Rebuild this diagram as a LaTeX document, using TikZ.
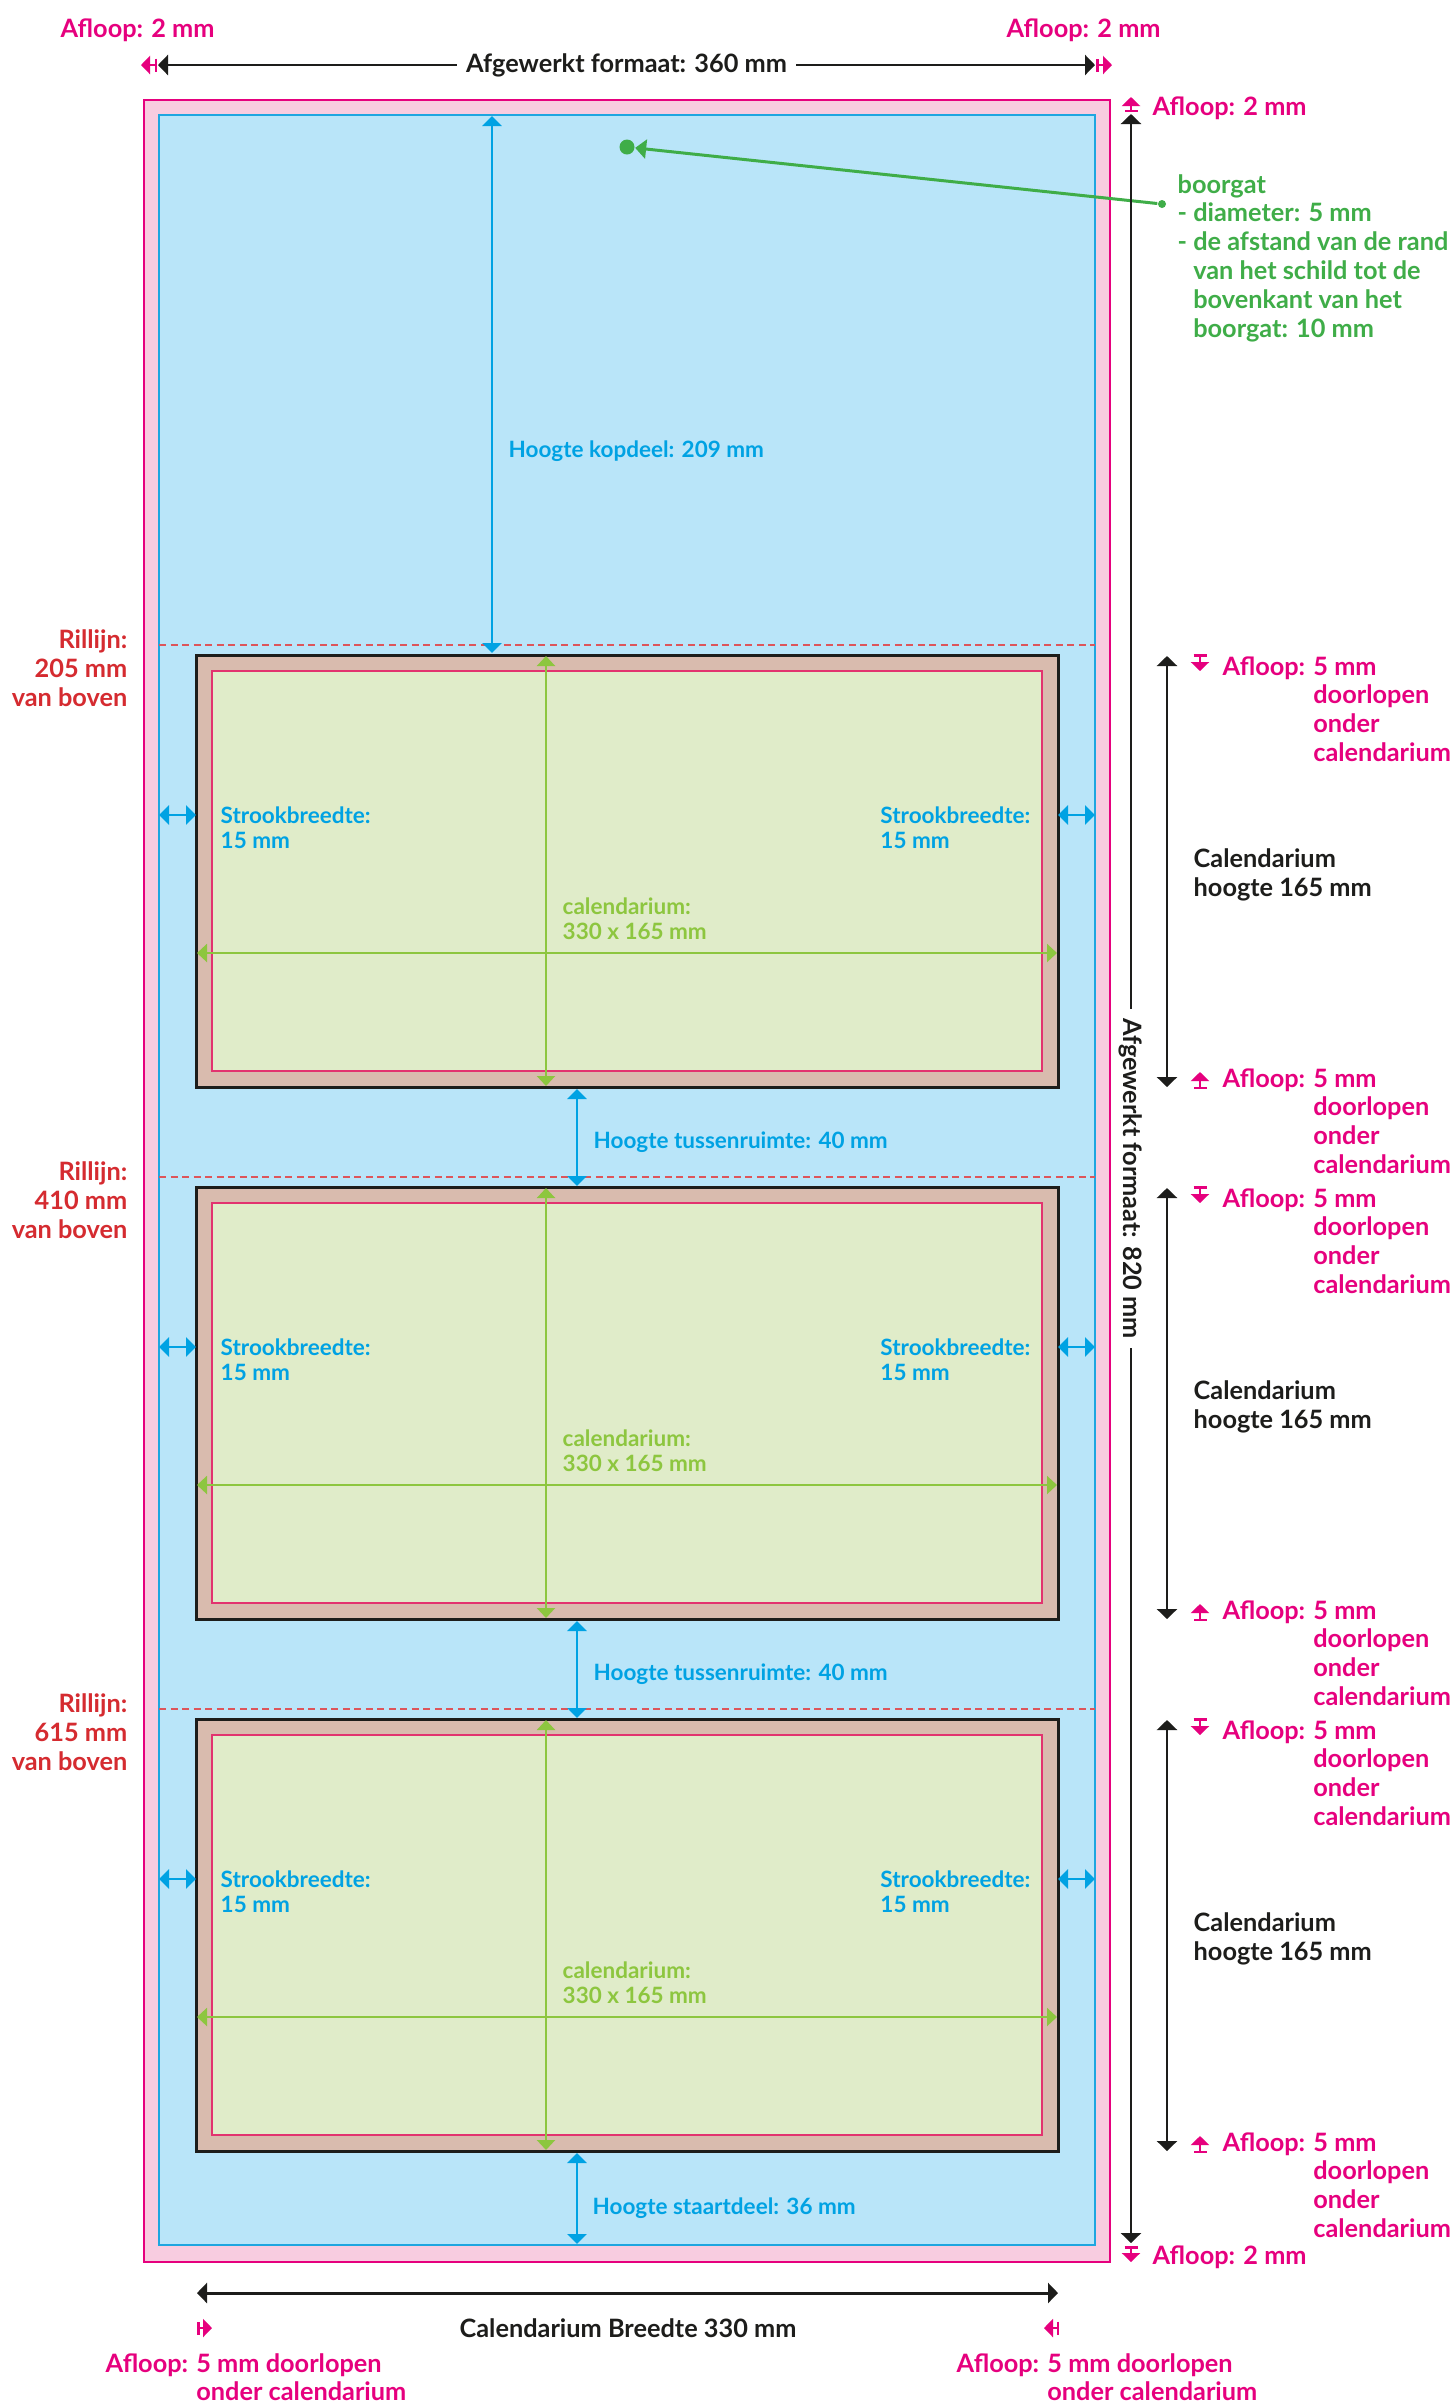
\documentclass[tikz,border=0pt]{standalone}
\usepackage{fontspec}
\setmainfont{Lato}
\usetikzlibrary{arrows.meta}

\definecolor{bleedpink}{HTML}{F8CCE0}
\definecolor{bleedline}{HTML}{E6007E}
\definecolor{pageblue}{HTML}{B9E5F9}
\definecolor{pageline}{HTML}{1EA6E0}
\definecolor{dimblue}{HTML}{00A2E3}
\definecolor{calbrown}{HTML}{D9BBAE}
\definecolor{calgreen}{HTML}{E0ECC9}
\definecolor{calline}{HTML}{E2336F}
\definecolor{limegreen}{HTML}{8DC63F}
\definecolor{holegreen}{HTML}{3FAD48}
\definecolor{rilred}{HTML}{D52B30}
\definecolor{inkblack}{HTML}{1D1D1B}

\tikzset{
  txt/.style={inner sep=0pt, font=\fontsize{7.2}{8.2}\selectfont\bfseries},
  tight/.style={inner sep=0pt, font=\fontsize{6.4}{7}\selectfont\bfseries},
  blackdim/.style={draw=inkblack, line width=0.25mm, {Triangle[width=2mm,length=1mm]}-{Triangle[width=2mm,length=1mm]}},
  bluedim/.style={draw=dimblue, line width=0.25mm, {Triangle[width=1.9mm,length=1mm]}-{Triangle[width=1.9mm,length=1mm]}},
  greendim/.style={draw=limegreen, line width=0.22mm, {Triangle[width=1.8mm,length=1mm]}-{Triangle[width=1.8mm,length=1mm]}},
  bleedmark/.style={draw=bleedline, line width=0.25mm, {Bar[width=1.3mm]}-{Triangle[width=1.8mm,length=0.9mm]}},
}

\begin{document}
\begin{tikzpicture}[x=0.1mm, y=-0.1mm]
  \useasboundingbox (0,0) rectangle (1456,2401);
  \fill [white] (0,0) rectangle (1456,2401);
  \draw [bleedline, fill=bleedpink, line width=0.2mm] (144,100) rectangle (1110,2262);
  \draw [pageline, fill=pageblue, line width=0.18mm] (159,115) rectangle (1095,2245);

  \foreach \k/\T/\rl in {1/655/205, 2/1187/410, 3/1719/615} {
    \draw [rilred!80, dash pattern=on 0.7mm off 0.45mm, line width=0.12mm] (159,\T-10) -- (1095,\T-10);
    \node [txt, text=rilred, align=right, anchor=base east] (ril\k) at (128,\T+51) {Rillijn:\\\rl{} mm\\van boven};
    \draw [inkblack, fill=calbrown, line width=0.3mm] (196,\T) rectangle (1058,\T+432);
    \draw [calline, fill=calgreen, line width=0.15mm] (212,\T+16) rectangle (1042,\T+416);
    \coordinate (ct\k) at (546,\T+1);
    \coordinate (cb\k) at (546,\T+431);
    \coordinate (cl\k) at (197,\T+298);
    \coordinate (cr\k) at (1057,\T+298);
    \draw [greendim] (ct\k) -- (cb\k);
    \draw [greendim] (cl\k) -- (cr\k);
    \node [tight, text=limegreen, align=left, anchor=base west] (size\k) at (562,\T+284) {calendarium:\\330 x 165 mm};
    \coordinate (sl\k) at (159,\T+160);
    \coordinate (sm\k) at (196,\T+160);
    \coordinate (sn\k) at (1058,\T+160);
    \coordinate (sr\k) at (1095,\T+160);
    \draw [bluedim] (sl\k) -- (sm\k);
    \draw [bluedim] (sn\k) -- (sr\k);
    \node [tight, text=dimblue, align=left, anchor=base west] (stl\k) at (220,\T+193) {Strookbreedte:\\15 mm};
    \node [tight, text=dimblue, align=left, anchor=base east] (str\k) at (1031,\T+193) {Strookbreedte:\\15 mm};
    \coordinate (ht\k) at (1167,\T+1);
    \coordinate (hb\k) at (1167,\T+432);
    \draw [blackdim] (ht\k) -- (hb\k);
    \node [txt, text=inkblack, align=left, anchor=base west] (hoog\k) at (1193,\T+241) {Calendarium\\hoogte 165 mm};
    \coordinate (mt\k) at (1200,\T-1);
    \coordinate (mu\k) at (1200,\T+16);
    \draw [bleedmark] (mt\k) -- (mu\k);
    \node [txt, text=bleedline, anchor=base west] (aft\k) at (1222,\T+20) {\begin{tabular}[t]{@{}l@{ }l}Afloop: & 5 mm\\ & doorlopen\\ & onder\\ & calendarium\end{tabular}};
    \coordinate (mb\k) at (1200,\T+434);
    \coordinate (mc\k) at (1200,\T+417);
    \draw [bleedmark] (mb\k) -- (mc\k);
    \node [txt, text=bleedline, anchor=base west] (afb\k) at (1222,\T+432) {\begin{tabular}[t]{@{}l@{ }l}Afloop: & 5 mm\\ & doorlopen\\ & onder\\ & calendarium\end{tabular}};
  }

  \coordinate (kt) at (492,116);
  \coordinate (kb) at (492,653);
  \draw [bluedim] (kt) -- (kb);
  \node [tight, text=dimblue, anchor=base west] (kop) at (508,457) {Hoogte kopdeel: 209 mm};
  \coordinate (g1t) at (577,1089);
  \coordinate (g1b) at (577,1186);
  \draw [bluedim] (g1t) -- (g1b);
  \node [tight, text=dimblue, anchor=base west] (gap1) at (593,1148) {Hoogte tussenruimte: 40 mm};
  \coordinate (g2t) at (577,1621);
  \coordinate (g2b) at (577,1718);
  \draw [bluedim] (g2t) -- (g2b);
  \node [tight, text=dimblue, anchor=base west] (gap2) at (593,1680) {Hoogte tussenruimte: 40 mm};
  \coordinate (zt) at (577,2153);
  \coordinate (zb) at (577,2244);
  \draw [bluedim] (zt) -- (zb);
  \node [tight, text=dimblue, anchor=base west] (staart) at (592,2214) {Hoogte staartdeel: 36 mm};

  \node [circle, fill=holegreen, inner sep=0pt, minimum size=1.5mm] (hole) at (627,147) {};
  \node [circle, fill=holegreen, inner sep=0pt, minimum size=0.8mm] (holetag) at (1162,204) {};
  \draw [holegreen, line width=0.3mm, -{Triangle[width=1.9mm,length=1.1mm]}] (holetag) -- (hole);
  \node [txt, text=holegreen, anchor=base west] (holetext) at (1177,193) {\begin{tabular}[t]{@{}l@{ }l}\multicolumn{2}{@{}l}{boorgat}\\- & diameter: 5 mm\\- & de afstand van de rand\\ & van het schild tot de\\ & bovenkant van het\\ & boorgat: 10 mm\end{tabular}};

  \node [txt, text=bleedline, anchor=base west] (atl) at (60,37) {Afloop: 2 mm};
  \node [txt, text=bleedline, anchor=base west] (atr) at (1006,37) {Afloop: 2 mm};
  \coordinate (wl) at (158,65);
  \coordinate (wr) at (1095,65);
  \draw [blackdim] (wl) -- node [txt, fill=white, inner xsep=0.9mm, text=inkblack] (wtext) {Afgewerkt formaat: 360 mm} (wr);
  \coordinate (wl0) at (157,65);
  \coordinate (wl1) at (141,65);
  \coordinate (wr0) at (1096,65);
  \coordinate (wr1) at (1112,65);
  \draw [bleedmark] (wl0) -- (wl1);
  \draw [bleedmark] (wr0) -- (wr1);

  \node [txt, text=bleedline, anchor=base west] (art) at (1152,115) {Afloop: 2 mm};
  \node [txt, text=bleedline, anchor=base west] (arb) at (1152,2264) {Afloop: 2 mm};
  \coordinate (vt) at (1131,114);
  \coordinate (vb) at (1131,2243);
  \draw [blackdim] (vt) -- node [txt, fill=white, inner xsep=0.9mm, rotate=-90, text=inkblack] (vtext) {Afgewerkt formaat: 820 mm} (vb);
  \coordinate (vt0) at (1131,112);
  \coordinate (vt1) at (1131,97);
  \coordinate (vb0) at (1131,2246);
  \coordinate (vb1) at (1131,2262);
  \draw [bleedmark] (vt0) -- (vt1);
  \draw [bleedmark] (vb0) -- (vb1);

  \coordinate (cwl) at (197,2293);
  \coordinate (cwr) at (1058,2293);
  \draw [blackdim, line width=0.3mm] (cwl) -- (cwr);
  \node [txt, text=inkblack] (cwtext) at (628,2328) {Calendarium Breedte 330 mm};
  \coordinate (bl0) at (197,2328);
  \coordinate (bl1) at (212,2328);
  \coordinate (br0) at (1059,2328);
  \coordinate (br1) at (1044,2328);
  \draw [bleedmark] (bl0) -- (bl1);
  \draw [bleedmark] (br0) -- (br1);
  \node [txt, text=bleedline, anchor=base west] (abl) at (105,2372) {\begin{tabular}[t]{@{}l@{ }l}Afloop: & 5 mm doorlopen\\ & onder calendarium\end{tabular}};
  \node [txt, text=bleedline, anchor=base west] (abr) at (956,2372) {\begin{tabular}[t]{@{}l@{ }l}Afloop: & 5 mm doorlopen\\ & onder calendarium\end{tabular}};
\end{tikzpicture}
\end{document}
